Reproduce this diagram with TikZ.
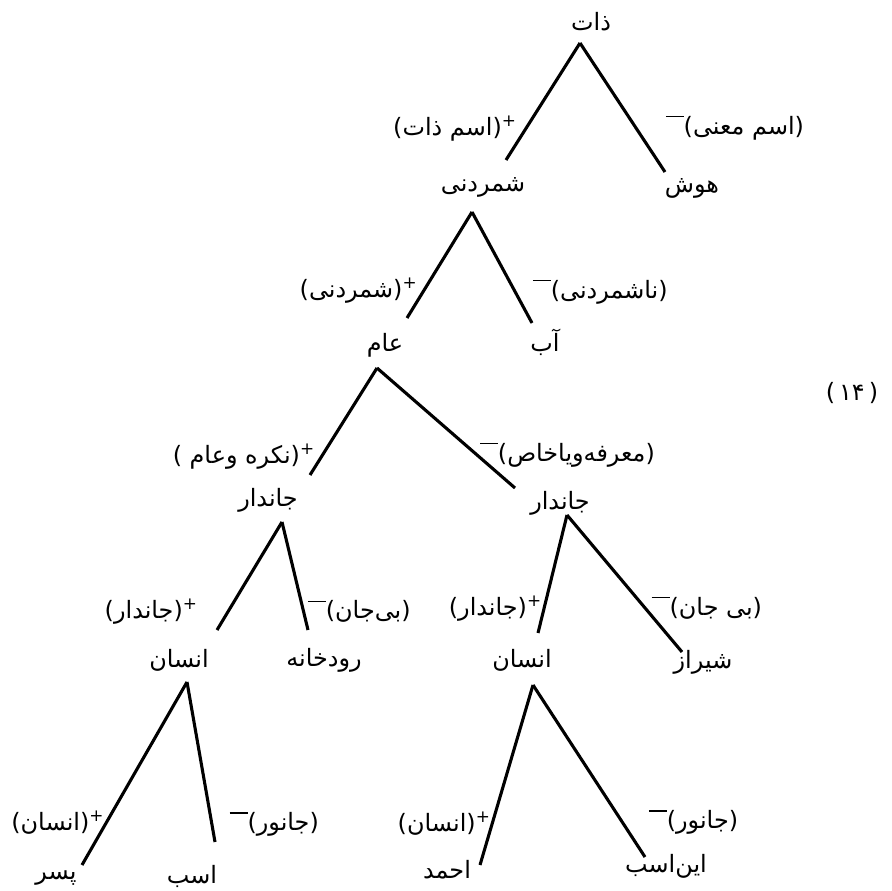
\documentclass[tikz,border=0pt]{standalone}
\usepackage{fontspec}
\newfontfamily\fa[Script=Arabic]{DejaVu Sans}
\newfontfamily\numfont{DejaVu Sans}
\TeXXeTstate=1
\newcommand{\fw}[1]{\beginR#1\endR}
\newcommand{\plusmark}{\raisebox{0.7ex}{\large +}}
\newcommand{\minusmark}{\raisebox{1.3ex}{\rule{0.75em}{1pt}}}
\tikzset{
  word/.style={font=\fa\fontsize{17}{20}\selectfont, inner sep=1pt},
  tag/.style={font=\fa\fontsize{17}{20}\selectfont, inner sep=2pt},
  branch/.style={line width=2.2pt},
}
\begin{document}
\begin{tikzpicture}[x=0.025cm,y=-0.025cm]
  \useasboundingbox (0,0) rectangle (892,891);
  % words of the tree
  \node[word] (zat) at (591,22) {\fw{ذات}};
  \node[word] (shom) at (483,187) {\fw{شمردنی}};
  \node[word] (hush) at (692,188) {\fw{هوش}};
  \node[word] (am) at (385,345) {\fw{عام}};
  \node[word] (ab) at (545,342) {\fw{آب}};
  \node[word] (jl) at (268,500) {\fw{جاندار}};
  \node[word] (jr) at (560,503) {\fw{جاندار}};
  \node[word] (il) at (179,660) {\fw{انسان}};
  \node[word] (rud) at (324,660) {\fw{رودخانه}};
  \node[word] (ir) at (522,660) {\fw{انسان}};
  \node[word] (shiraz) at (703,662) {\fw{شیراز}};
  \node[word] (pesar) at (56,878) {\fw{پسر}};
  \node[word] (asb) at (192,876) {\fw{اسب}};
  \node[word] (ahmad) at (447,870) {\fw{احمد}};
  \node[word] (inasb) at (666,866) {\fw{این^^^^200cاسب}};
  \node[word,font=\numfont\fontsize{17}{20}\selectfont] (num) at (852,393) {(\,۱۴\,)};
  % branches
  \draw[branch] ([shift={(-11,21)}]zat.center) -- node[tag,pos=.73,left,xshift=-4pt] {\fw{\plusmark(اسم ذات)}} ([shift={(23,-27)}]shom.center);
  \draw[branch] ([shift={(-11,21)}]zat.center) -- node[tag,pos=.66,right,xshift=18pt] {\fw{(اسم معنی)\minusmark}} ([shift={(-27,-16)}]hush.center);
  \draw[branch] ([shift={(-11,25)}]shom.center) -- node[tag,pos=.74,left,xshift=-2pt] {\fw{\plusmark(شمردنی)}} ([shift={(22,-27)}]am.center);
  \draw[branch] ([shift={(-11,25)}]shom.center) -- node[tag,pos=.72,right,xshift=9.5pt] {\fw{(ناشمردنی)\minusmark}} ([shift={(-13,-19)}]ab.center);
  \draw[branch] ([shift={(-8,23)}]am.center) -- node[tag,pos=.83,left,xshift=-2pt] {\fw{\plusmark(نکره وعام )}} ([shift={(42,-25)}]jl.center);
  \draw[branch] ([shift={(-8,23)}]am.center) -- node[tag,pos=.725,right,xshift=-1pt] {\fw{(معرفه^^^^200cویاخاص)\minusmark}} ([shift={(-45,-15)}]jr.center);
  \draw[branch] ([shift={(14,22)}]jl.center) -- node[tag,pos=.83,left,xshift=-19pt] {\fw{\plusmark(جاندار)}} ([shift={(38,-30)}]il.center);
  \draw[branch] ([shift={(14,22)}]jl.center) -- node[tag,pos=.83,right] {\fw{(بی^^^^200cجان)\minusmark}} ([shift={(-16,-30)}]rud.center);
  \draw[branch] ([shift={(7,12)}]jr.center) -- node[tag,pos=.79,left,xshift=1pt] {\fw{\plusmark(جاندار)}} ([shift={(16,-27)}]ir.center);
  \draw[branch] ([shift={(7,12)}]jr.center) -- node[tag,pos=.68,right,xshift=1.5pt] {\fw{(بی جان)\minusmark}} ([shift={(-21,-10)}]shiraz.center);
  \draw[branch] ([shift={(8,22)}]il.center) -- node[tag,pos=.77,left,xshift=1.3pt] {\fw{\plusmark(انسان)}} ([shift={(26,-13)}]pesar.center);
  \draw[branch] ([shift={(8,22)}]il.center) -- node[tag,pos=.89,right,xshift=9.5pt] {\fw{(جانور)\minusmark}} ([shift={(23,-34)}]asb.center);
  \draw[branch] ([shift={(11,25)}]ir.center) -- node[tag,pos=.77,left,xshift=1.5pt] {\fw{\plusmark(انسان)}} ([shift={(33,-5)}]ahmad.center);
  \draw[branch] ([shift={(11,25)}]ir.center) -- node[tag,pos=.80,right,xshift=15.6pt] {\fw{(جانور)\minusmark}} ([shift={(-21,-9)}]inasb.center);
\end{tikzpicture}
\end{document}
